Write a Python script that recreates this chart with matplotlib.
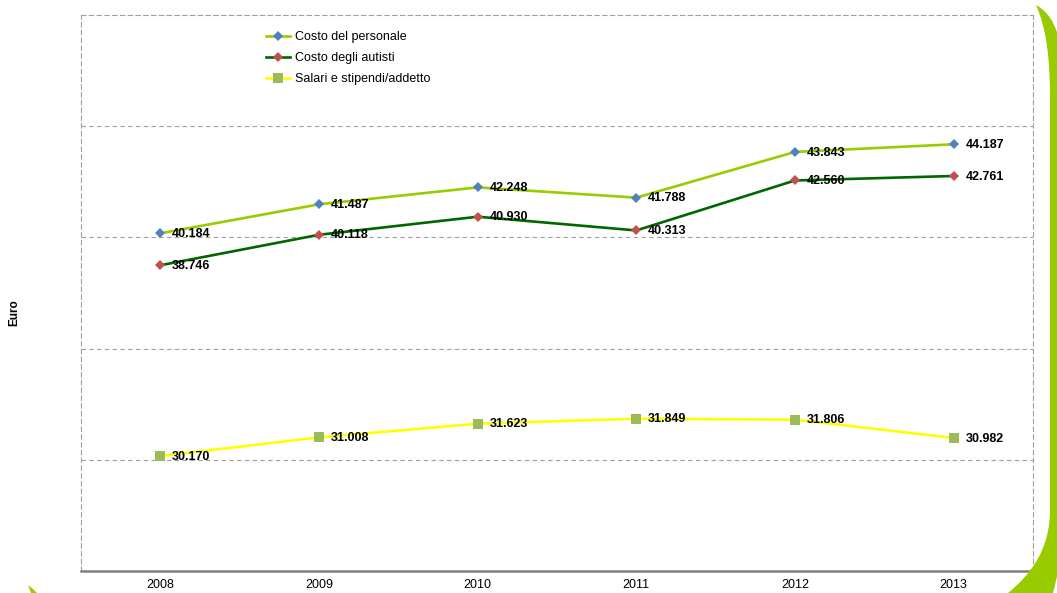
import matplotlib
matplotlib.use("Agg")
import matplotlib.pyplot as plt
from matplotlib.patches import PathPatch
from matplotlib.path import Path

plt.rcParams['font.family'] = ['Liberation Sans', 'DejaVu Sans']

years = ["2008", "2009", "2010", "2011", "2012", "2013"]
costo_personale = [40.184, 41.487, 42.248, 41.788, 43.843, 44.187]
costo_autisti = [38.746, 40.118, 40.930, 40.313, 42.560, 42.761]
salari_addetto = [30.170, 31.008, 31.623, 31.849, 31.806, 30.982]

series = [
    ("Costo del personale", costo_personale, "#99CC00", "D", "#4F81BD", 4.6),
    ("Costo degli autisti", costo_autisti, "#006600", "D", "#C0504D", 4.6),
    ("Salari e stipendi/addetto", salari_addetto, "#FFFF00", "s", "#9BBB59", 7.5),
]

W, H = 1057, 593
fig = plt.figure(figsize=(W / 100, H / 100), dpi=100)
fig.patch.set_facecolor("white")


def fx(x):
    return x / W


def fy(y):
    return 1 - y / H


ax = fig.add_axes([fx(81), fy(571), fx(1033) - fx(81), fy(15) - fy(571)])

x = list(range(len(years)))
handles = []
for name, vals, lc, mk, mc, ms in series:
    h, = ax.plot(x, vals, color=lc, linewidth=1.9, marker=mk, markersize=ms,
                 markerfacecolor=mc, markeredgewidth=0, label=name, zorder=3)
    handles.append(h)
    for xi, v in zip(x, vals):
        ax.annotate(f"{v:.3f}", (xi, v), xytext=(8.5, -0.5), textcoords="offset points",
                    ha="left", va="center", fontsize=9, fontweight="bold",
                    color="black", zorder=4)

ax.set_xlim(-0.5, len(years) - 0.5)
ax.set_ylim(25, 50)
ax.set_xticks(x)
ax.set_xticklabels(years, fontsize=9)
ax.set_yticks([30, 35, 40, 45])
ax.tick_params(axis="y", left=False, labelleft=False)
ax.tick_params(axis="x", length=0, pad=6)
ax.grid(axis="y", color="#A0A0A0", linestyle=(0, (4, 3)), linewidth=0.8, zorder=1)

for side in ("top", "left", "right"):
    ax.spines[side].set_color("#A0A0A0")
    ax.spines[side].set_linestyle((0, (4, 3)))
    ax.spines[side].set_linewidth(0.8)
ax.spines["bottom"].set_color("#808080")
ax.spines["bottom"].set_linewidth(1.8)

fig.text(fx(14), fy(313), "Euro", rotation=90, ha="center", va="center",
         fontsize=8.5, fontweight="bold")

fig.legend(handles=handles, loc="upper left", bbox_to_anchor=(fx(266), fy(31)),
           frameon=False, fontsize=9, handlelength=1.9, handletextpad=0.45,
           labelspacing=0.72, borderpad=0, borderaxespad=0)

# decorative swoosh along the right edge
green = "#99CC00"
verts = [
    (1036, 5),
    (1047, 30), (1050, 60), (1050, 100),
    (1050, 510),
    (1050, 550), (1030, 575), (1008, 593),
    (1053, 593),
    (1062, 560), (1064, 530), (1064, 480),
    (1064, 90),
    (1064, 40), (1055, 15), (1036, 5),
]
codes = [Path.MOVETO,
         Path.CURVE4, Path.CURVE4, Path.CURVE4,
         Path.LINETO,
         Path.CURVE4, Path.CURVE4, Path.CURVE4,
         Path.LINETO,
         Path.CURVE4, Path.CURVE4, Path.CURVE4,
         Path.LINETO,
         Path.CURVE4, Path.CURVE4, Path.CURVE4]
path = Path([(fx(a), fy(b)) for a, b in verts], codes)
fig.patches.append(PathPatch(path, facecolor=green, edgecolor="none",
                             transform=fig.transFigure, figure=fig))

tip = [(28, 585), (33, 589), (37, 593), (31, 593), (28, 585)]
tip_path = Path([(fx(a), fy(b)) for a, b in tip])
fig.patches.append(PathPatch(tip_path, facecolor=green, edgecolor="none",
                             transform=fig.transFigure, figure=fig))

fig.savefig("out.png", dpi=100, facecolor="white")
